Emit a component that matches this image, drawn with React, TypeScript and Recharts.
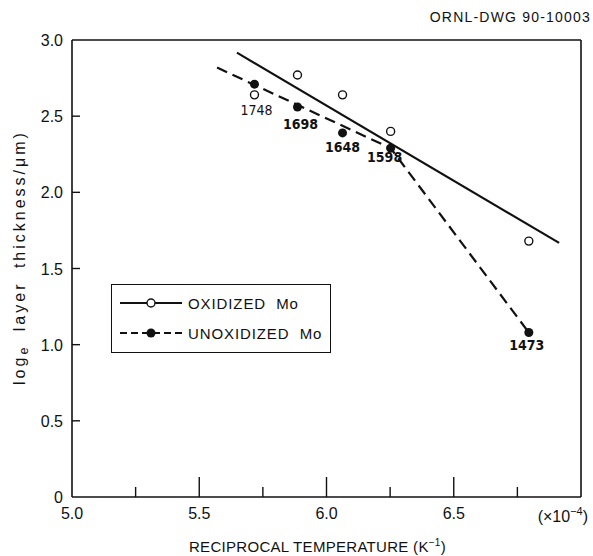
import { ScatterChart, Scatter, XAxis, YAxis, Legend, Label } from 'recharts';

// 1/T values (x10^-4 K^-1) and the furnace temperature each point belongs to
const temps = ['1748', '1698', '1648', '1598', '1473'];
const recipT = [5.717, 5.886, 6.063, 6.252, 6.795];
const oxidized = [2.64, 2.77, 2.64, 2.4, 1.68];
const unoxidized = [2.71, 2.56, 2.39, 2.29, 1.08];

// drawn fit lines
const oxFitX = [5.648, 6.914];
const oxFitY = [2.917, 1.668];
const unFitX = [5.57, 6.252, 6.795];
const unFitY = [2.819, 2.29, 1.08];

const xTicks = [5, 5.25, 5.5, 5.75, 6, 6.25, 6.5, 6.75, 7];
const yTicks = [0, 0.5, 1, 1.5, 2, 2.5, 3];
const legendNames = ['OXIDIZED  Mo', 'UNOXIDIZED  Mo'];

const INK = '#111';
const SANS = '"Liberation Sans", Arial, sans-serif';
const NARROW = '"Liberation Sans Narrow", "DejaVu Sans Condensed", sans-serif';

// where each temperature tag sits relative to its filled dot
const labelNudge: Record<string, [number, number]> = {
  '1748': [2, 26],
  '1698': [3, 17],
  '1648': [0, 14],
  '1598': [-6, 9],
  '1473': [-2, 13],
};

const oxData = recipT.map((x, i) => ({ x, y: oxidized[i] }));
const unData = recipT.map((x, i) => ({ x, y: unoxidized[i], t: temps[i] }));
const oxFit = oxFitX.map((x, i) => ({ x, y: oxFitY[i] }));
const unFit = unFitX.map((x, i) => ({ x, y: unFitY[i] }));

const isMajor = (v: number) => Math.abs(v * 2 - Math.round(v * 2)) < 1e-6;

const NoDot = () => <g />;

const OpenDot = (p: any) => (
  <circle cx={p.cx} cy={p.cy} r={4} fill="#fff" stroke={INK} strokeWidth={1.4} />
);

const FilledDot = (p: any) => {
  const t = p.payload.t;
  const [dx, dy] = labelNudge[t] || [0, 14];
  return (
    <g>
      <circle cx={p.cx} cy={p.cy} r={4.5} fill={INK} />
      <text
        x={p.cx + dx}
        y={p.cy + dy + 5}
        textAnchor="middle"
        fontFamily={NARROW}
        fontSize={14}
        fontWeight={t === '1748' ? 400 : 700}
        fill={INK}
      >
        {t}
      </text>
    </g>
  );
};

const BottomTick = ({ x, y, payload }: any) => {
  const v = payload.value;
  const edge = v === 5 || v === 7;
  return (
    <g>
      {!edge && <line x1={x} y1={y} x2={x} y2={y - (isMajor(v) ? 20 : 10)} stroke={INK} strokeWidth={1.4} />}
      {v === 7 ? (
        <text x={x + 7} y={y + 25} textAnchor="end" fontFamily={SANS} fontSize={16} fill={INK}>
          (×10<tspan dy={-7} fontSize={11}>−4</tspan>
          <tspan dy={7}>)</tspan>
        </text>
      ) : (
        isMajor(v) && (
          <text x={x} y={y + 22} textAnchor="middle" fontFamily={SANS} fontSize={16} fill={INK}>
            {v.toFixed(1)}
          </text>
        )
      )}
    </g>
  );
};

const TopTick = ({ x, y, payload }: any) => {
  const v = payload.value;
  if (v === 5 || v === 7) return <g />;
  return <line x1={x} y1={y} x2={x} y2={y + (isMajor(v) ? 20 : 10)} stroke={INK} strokeWidth={1.4} />;
};

const LeftTick = ({ x, y, payload }: any) => {
  const v = payload.value;
  const edge = v === 0 || v === 3;
  return (
    <g>
      {!edge && <line x1={x} y1={y} x2={x + 8} y2={y} stroke={INK} strokeWidth={1.4} />}
      <text x={x - 9} y={y + 6} textAnchor="end" fontFamily={SANS} fontSize={16} fill={INK}>
        {v === 0 ? '0' : v.toFixed(1)}
      </text>
    </g>
  );
};

const RightTick = ({ x, y, payload }: any) => {
  const v = payload.value;
  if (v === 0 || v === 3) return <g />;
  return <line x1={x} y1={y} x2={x - 13} y2={y} stroke={INK} strokeWidth={1.4} />;
};

const XTitle = ({ viewBox }: any) => (
  <text
    x={viewBox.x + viewBox.width / 2 - 9}
    y={viewBox.y + 55}
    textAnchor="middle"
    fontFamily={SANS}
    fontSize={15}
    letterSpacing={0.3}
    fill={INK}
  >
    RECIPROCAL TEMPERATURE (K<tspan dy={-6} fontSize={10}>−1</tspan>
    <tspan dy={6}>)</tspan>
  </text>
);

const YTitle = ({ viewBox }: any) => {
  const cx = viewBox.x + 19;
  const cy = viewBox.y + viewBox.height / 2 - 11;
  return (
    <text
      x={cx}
      y={cy}
      transform={`rotate(-90 ${cx} ${cy})`}
      textAnchor="middle"
      dominantBaseline="central"
      fontFamily={SANS}
      fontSize={16}
      letterSpacing={3}
      wordSpacing={6}
      fill={INK}
    >
      log<tspan dy={5} fontSize={12.5}>e</tspan>
      <tspan dy={-5}> layer thickness/μm)</tspan>
    </text>
  );
};

const LegendBox = () => (
  <div style={{ border: `1.5px solid ${INK}`, width: 218, height: 67, background: '#fff' }}>
    <svg width={218} height={67}>
      {legendNames.map((name, i) => {
        const y = 18 + i * 30;
        return (
          <g key={name}>
            <line
              x1={8}
              y1={y}
              x2={70}
              y2={y}
              stroke={INK}
              strokeWidth={2.2}
              strokeDasharray={i === 1 ? '7 4' : undefined}
            />
            {i === 0 ? (
              <circle cx={39} cy={y} r={4} fill="#fff" stroke={INK} strokeWidth={1.4} />
            ) : (
              <circle cx={39} cy={y} r={4.5} fill={INK} />
            )}
            <text
              x={76}
              y={y + 6}
              fontFamily={SANS}
              fontSize={15}
              letterSpacing={0.9}
              fill={INK}
              style={{ whiteSpace: 'pre' }}
            >
              {name}
            </text>
          </g>
        );
      })}
    </svg>
  </div>
);

export default function App() {
  return (
    <div style={{ position: 'absolute', left: 0, top: 0, width: 593, height: 556, background: '#fff' }}>
      <div
        style={{
          position: 'absolute',
          right: 2,
          top: 9,
          fontFamily: SANS,
          fontSize: 14,
          letterSpacing: 1.2,
          color: INK,
          zIndex: 2,
        }}
      >
        ORNL-DWG 90-10003
      </div>
      <ScatterChart width={593} height={556} margin={{ top: 10, right: 2, bottom: 0, left: 0 }}>
        <XAxis
          xAxisId="b"
          type="number"
          dataKey="x"
          domain={[5, 7]}
          ticks={xTicks}
          interval={0}
          height={59}
          tickSize={0}
          tickMargin={0}
          tickLine={false}
          axisLine={{ stroke: INK, strokeWidth: 1.6 }}
          tick={(p: any) => <BottomTick {...p} />}
        >
          <Label content={XTitle} />
        </XAxis>
        <XAxis
          xAxisId="t"
          orientation="top"
          type="number"
          dataKey="x"
          domain={[5, 7]}
          ticks={xTicks}
          interval={0}
          height={30}
          tickSize={0}
          tickMargin={0}
          tickLine={false}
          axisLine={{ stroke: INK, strokeWidth: 1.6 }}
          tick={(p: any) => <TopTick {...p} />}
        />
        <YAxis
          yAxisId="l"
          type="number"
          dataKey="y"
          domain={[0, 3]}
          ticks={yTicks}
          interval={0}
          width={72}
          tickSize={0}
          tickMargin={0}
          tickLine={false}
          axisLine={{ stroke: INK, strokeWidth: 1.6 }}
          tick={(p: any) => <LeftTick {...p} />}
        >
          <Label content={YTitle} />
        </YAxis>
        <YAxis
          yAxisId="r"
          orientation="right"
          type="number"
          dataKey="y"
          domain={[0, 3]}
          ticks={yTicks}
          interval={0}
          width={10}
          tickSize={0}
          tickMargin={0}
          tickLine={false}
          axisLine={{ stroke: INK, strokeWidth: 1.6 }}
          tick={(p: any) => <RightTick {...p} />}
        />
        <Legend
          layout="vertical"
          align="center"
          verticalAlign="middle"
          wrapperStyle={{ left: 111, top: 284, width: 221, height: 70 }}
          content={() => <LegendBox />}
        />
        <Scatter
          name="oxidized fit"
          xAxisId="b"
          yAxisId="l"
          data={oxFit}
          line={{ stroke: INK, strokeWidth: 2.2 }}
          shape={NoDot}
          legendType="none"
          isAnimationActive={false}
        />
        <Scatter
          name="unoxidized fit"
          xAxisId="b"
          yAxisId="l"
          data={unFit}
          line={{ stroke: INK, strokeWidth: 2.2, strokeDasharray: '11 6' }}
          shape={NoDot}
          legendType="none"
          isAnimationActive={false}
        />
        <Scatter
          name="OXIDIZED Mo"
          xAxisId="b"
          yAxisId="l"
          data={oxData}
          shape={OpenDot}
          isAnimationActive={false}
        />
        <Scatter
          name="UNOXIDIZED Mo"
          xAxisId="b"
          yAxisId="l"
          data={unData}
          shape={FilledDot}
          isAnimationActive={false}
        />
      </ScatterChart>
    </div>
  );
}
